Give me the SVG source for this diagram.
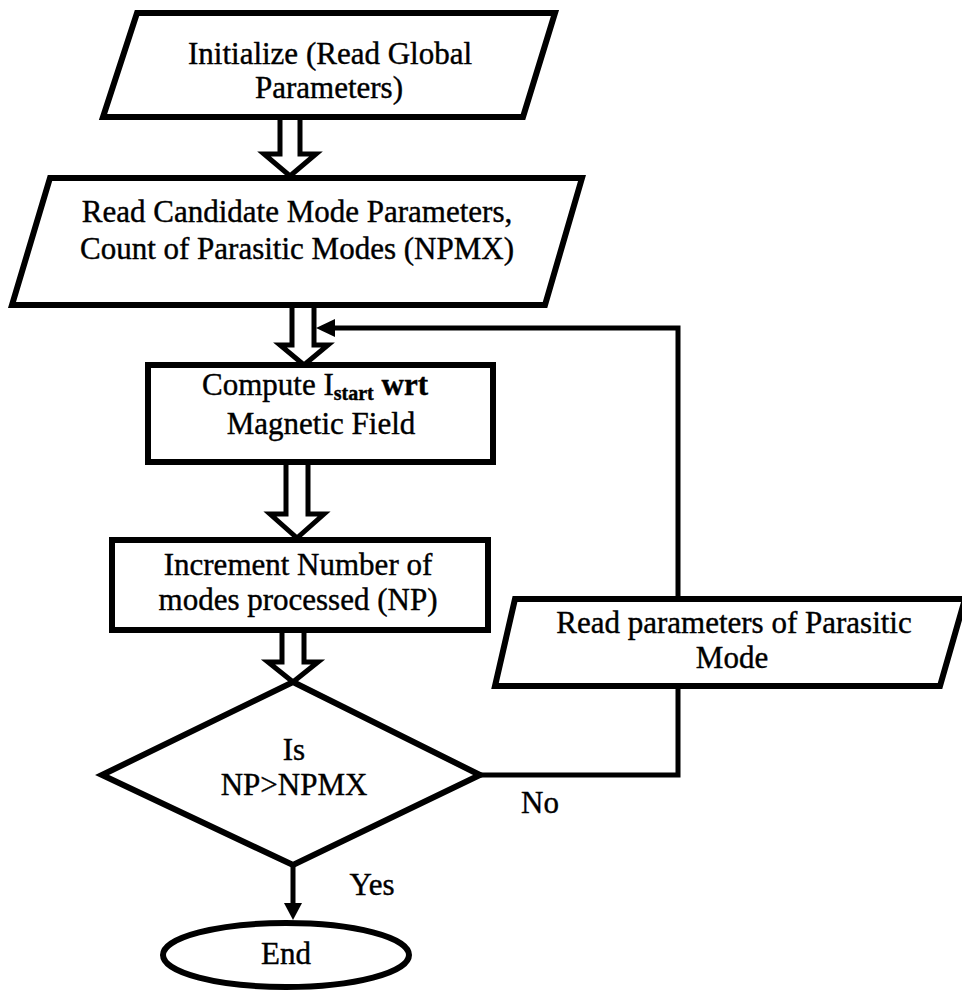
<svg xmlns="http://www.w3.org/2000/svg" width="962" height="990" viewBox="0 0 962 990">
<style>
.shape{fill:#fff;stroke:#000;stroke-width:6;stroke-linejoin:miter}
.blk{fill:#fff;stroke:#000;stroke-width:5;stroke-linejoin:miter}
.ln{fill:none;stroke:#000;stroke-width:5}
.t{font-family:"Liberation Serif","Times New Roman",serif;font-size:31px;fill:#000;stroke:#000;stroke-width:0.4;text-anchor:middle}
.b{font-weight:bold}
</style>
<rect width="962" height="990" fill="#fff"/>
<g id="connectors">
<path class="blk" d="M280,117 V154 H264 L290,176 L316,154 H300 V117"/>
<path class="blk" d="M292,305 V345 H280 L304,365 L328,345 H314 V305"/>
<path class="blk" d="M286,462 V514 H270 L297,538 L324,514 H308 V462"/>
<path class="blk" d="M282,630 V662 H268 L293,682 L318,662 H304 V630"/>
<polyline class="ln" points="330,328 678,328 678,599"/>
<polygon points="316,328 335,319 335,337" fill="#000"/>
<polyline class="ln" points="480,775 678,775 678,686"/>
<line class="ln" x1="293" y1="865" x2="293" y2="906"/>
<polygon points="284,903 302,903 293,920" fill="#000"/>
<text class="t" x="372" y="895" font-size="28">Yes</text>
<text class="t" x="540" y="813" font-size="29">No</text>
</g>
<g id="n1">
<polygon class="shape" points="137,13 555,13 523,117 103,117"/>
<text class="t" x="330" y="64">Initialize (Read Global</text>
<text class="t" x="329" y="98">Parameters)</text>
</g>
<g id="n2">
<polygon class="shape" points="50,178 582,178 545,305 12,305"/>
<text class="t" x="297" y="222">Read Candidate Mode Parameters,</text>
<text class="t" x="297" y="259">Count of Parasitic Modes (NPMX)</text>
</g>
<g id="n3">
<rect class="shape" x="148" y="365" width="345" height="97"/>
<text class="t" x="315" y="395">Compute I<tspan class="b" font-size="20" dy="5">start</tspan><tspan class="b" dy="-5"> wrt</tspan></text>
<text class="t" x="321" y="434">Magnetic Field</text>
</g>
<g id="n4">
<rect class="shape" x="112" y="540" width="376" height="90"/>
<text class="t" x="298" y="575">Increment Number of</text>
<text class="t" x="298" y="610">modes processed (NP)</text>
</g>
<g id="n5">
<polygon class="shape" points="515,599 965,599 940,686 495,686"/>
<text class="t" x="734" y="633">Read parameters of Parasitic</text>
<text class="t" x="732" y="668">Mode</text>
</g>
<g id="n6">
<polygon class="shape" points="293,682 480,775 293,865 102,775"/>
<text class="t" x="294" y="760">Is</text>
<text class="t" x="294" y="795">NP&gt;NPMX</text>
</g>
<g id="n7">
<ellipse class="shape" cx="286" cy="955" rx="123" ry="32"/>
<text class="t" x="286" y="964">End</text>
</g>
</svg>
